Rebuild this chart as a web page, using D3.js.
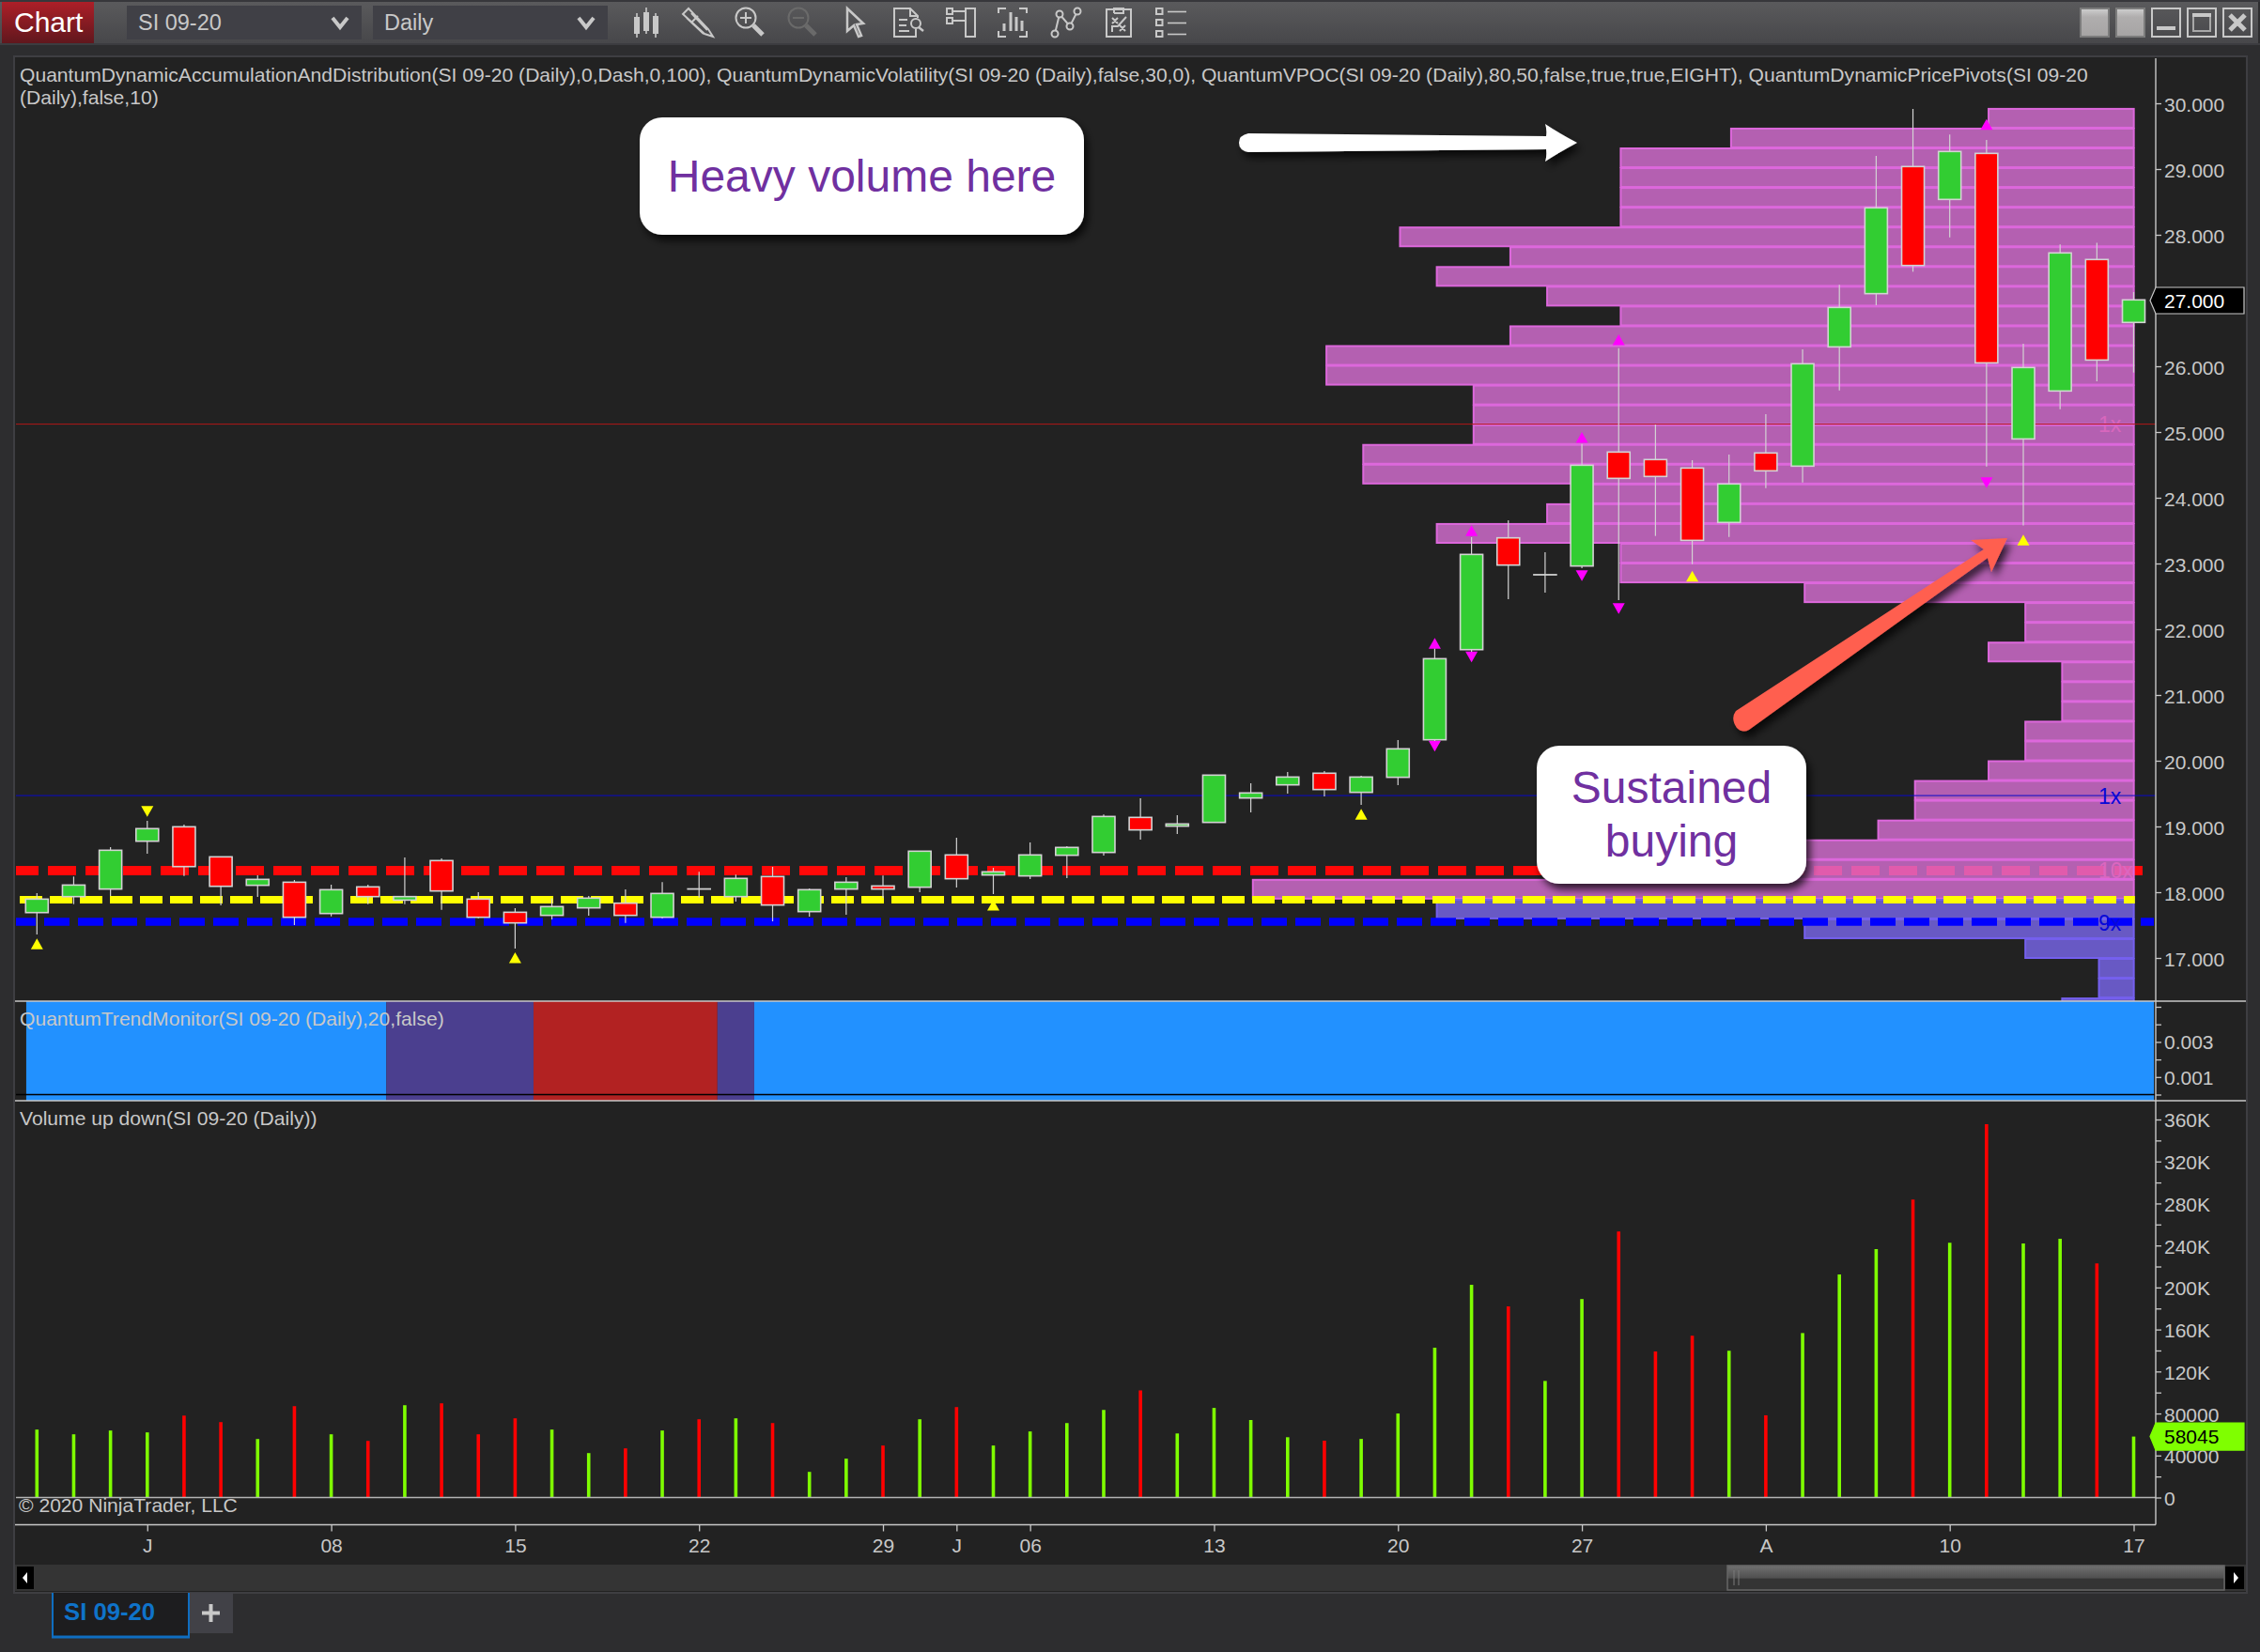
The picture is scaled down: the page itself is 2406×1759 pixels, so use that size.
<!DOCTYPE html>
<html><head><meta charset="utf-8">
<style>html,body{margin:0;padding:0;background:#2d2d2f;overflow:hidden}svg{display:block}text{font-family:"Liberation Sans",Arial,sans-serif}</style>
<script src="https://cdn.jsdelivr.net/npm/d3@7"></script></head><body><svg id="c" width="2406" height="1759"></svg>
<script>
// ---- data ----
const opens=[17.69,17.933,18.048,18.776,18.995,18.538,18.105,18.152,17.676,18.081,17.88,18.481,17.895,17.695,17.648,17.762,17.833,17.619,18.05,17.933,18.238,17.705,18.048,18.095,18.076,18.567,18.262,18.248,18.562,18.605,19.138,19.005,19.062,19.433,19.633,19.81,19.519,19.748,20.319,21.69,23.39,22.828,22.962,24.695,24.581,24.452,23.624,24.681,24.481,26.295,27.105,29.038,28.538,29.238,24.895,25.624,27.624,26.667];
const highs=[17.986,18.238,18.686,19.086,19.029,18.538,18.257,18.186,18.114,18.114,18.529,18.514,18,17.757,17.905,17.943,18.043,18.152,18.31,18.267,18.386,18.057,18.229,18.252,18.624,18.829,18.371,18.757,18.7,19.181,19.429,19.171,19.781,19.657,19.829,19.843,19.771,20.314,21.705,23.4,23.657,23.171,24.819,26.276,25.114,24.571,24.657,25.271,26.257,27.238,29.2,29.914,29.524,29.443,26.343,27.852,27.88,27.129];
const lows=[17.357,17.819,17.943,18.586,18.248,17.8,17.929,17.5,17.633,17.819,17.819,17.733,17.605,17.143,17.586,17.643,17.533,17.6,17.919,17.857,17.557,17.629,17.657,17.914,18,18.071,17.971,18.2,18.214,18.557,18.8,18.886,19.062,19.214,19.5,19.457,19.329,19.629,20.3,21.657,22.457,22.557,22.929,22.443,23.419,22.99,23.405,24.148,24.233,25.633,26.93,27.438,27.962,24.476,23.58,25.348,25.771,25.905];
const closes=[17.895,18.109,18.638,18.967,18.39,18.09,18.195,17.619,18.038,17.933,17.933,18.019,17.619,17.533,17.781,17.91,17.648,17.981,18.048,18.21,17.805,18.038,18.152,18.048,18.624,18.205,18.31,18.567,18.681,19.152,18.948,19.038,19.781,19.51,19.752,19.562,19.752,20.181,21.552,23.138,22.976,22.83,24.495,24.295,24.324,23.352,24.21,24.41,26.038,26.895,28.41,27.533,29.267,26.052,25.981,27.724,26.095,27.01];
const volumes=[64700,60200,63800,62000,78000,71800,55700,87000,60200,53900,87900,89700,60200,75400,64700,42300,46800,63800,74500,75400,70900,24400,37000,49500,74500,86100,49500,62900,70900,83400,102000,61000,85300,73800,57400,54100,55800,80000,142700,202500,182000,111000,189000,253400,139000,154000,139800,78300,156600,212400,236600,283700,242700,355500,241900,246400,223000,58045];
const xTickBars=[3,8,13,18,23,25,27,32,37,42,47,52,57];
const xTickLabels=["J","08","15","22","29","J","06","13","20","27","A","10","17"];
const priceTicks=[17,18,19,20,21,22,23,24,25,26,27,28,29,30];
const volumeTicks=[0,20000,40000,60000,80000,100000,120000,140000,160000,180000,200000,220000,240000,260000,280000,300000,320000,340000,360000];
const volumeLabels={0:"0",40000:"40000",80000:"80000",120000:"120K",160000:"160K",200000:"200K",240000:"240K",280000:"280K",320000:"320K",360000:"360K"};
const trendTicks=[0,0.001,0.002,0.003,0.004,0.005];
const trendLabels={0.001:"0.001",0.003:"0.003"};
// volume profile: bins from the top of the panel (in bar-widths of accumulated activity)
const profileVolume=[4,11,14,14,14,14,20,17,19,16,14,17,22,22,18,18,18,21,21,15,16,19,14,14,9,3,3,4,2,2,2,3,3,4,6,6,7,10,13,24,19,9,3,1,1,2];
const profileLowZoneStart=40, profileTopPrice=29.93, profileBinSize=0.3007;
const trendStart=[-0.29,9.5,13.5,18.5,19.5];
const trendEnd=[9.5,13.5,18.5,19.5,57.55];
const trendColor=["#2291ff","#4b3f8f","#b22222","#4b3f8f","#2291ff"];
const pivotUpYellow=[[0,17.21],[13,17.0],[26,17.80],[36,19.181],[45,22.805],[54,23.352]];
const pivotDownYellow=[[3,19.233]];
const pivotUpMagenta=[[38,21.781],[39,23.495],[42,24.914],[43,26.4],[53,29.676]];
const pivotDownMagenta=[[38,20.224],[39,21.581],[42,22.819],[43,22.319],[53,24.233]];
const levelRedThick=18.33, levelYellow=17.886, levelBlue=17.55, levelThinBlue=19.47, levelThinRed=25.12;
const lastPrice=27.000, lastVolume=58045;
const headerLine1="QuantumDynamicAccumulationAndDistribution(SI 09-20 (Daily),0,Dash,0,100), QuantumDynamicVolatility(SI 09-20 (Daily),false,30,0), QuantumVPOC(SI 09-20 (Daily),80,50,false,true,true,EIGHT), QuantumDynamicPricePivots(SI 09-20";
const headerLine2="(Daily),false,10)";

// ---- scales ----
const x=d3.scaleLinear().domain([0,57]).range([39.3,2271.5]);
const yP=d3.scaleLinear().domain([17,30]).range([1020,110]);
const yV=d3.scaleLinear().domain([0,360000]).range([1594.5,1192]);
const yT=d3.scaleLinear().domain([0,0.005]).range([1165.5,1072]);
const profileRight=57.03;
const svg=d3.select("#c");
const GR="#c8c8c8";

// ---- defs ----
const defs=svg.append("defs");
function grad(id,stops){const g=defs.append("linearGradient").attr("id",id).attr("x1",0).attr("x2",0).attr("y1",0).attr("y2",1);
 stops.forEach(s=>g.append("stop").attr("offset",s[0]).attr("stop-color",s[1]));}
grad("tb",[[0,"#5a5a5c"],[1,"#47474a"]]);
grad("rb",[[0,"#ad1f28"],[1,"#60171d"]]);
grad("wb",[[0,"#d0d0d0"],[0.3,"#b0aeae"],[1,"#a6a4a4"]]);
grad("th",[[0,"#707070"],[0.5,"#505050"],[0.55,"#343434"],[1,"#343434"]]);
const sh=defs.append("filter").attr("id","sh").attr("x","-20%").attr("y","-30%").attr("width","140%").attr("height","160%");
sh.append("feDropShadow").attr("dx",4).attr("dy",6).attr("stdDeviation",4).attr("flood-color","#000").attr("flood-opacity",.75);
defs.append("clipPath").attr("id","pricePanel").append("rect").attr("x",17).attr("y",62).attr("width",2278).attr("height",1004);

// ---- window chrome ----
svg.append("rect").attr("width",2406).attr("height",1759).attr("fill","#2d2d2f");
svg.append("rect").attr("width",2406).attr("height",2).attr("fill","#37373b");
svg.append("rect").attr("y",2).attr("width",2404).attr("height",44).attr("fill","url(#tb)");
svg.append("rect").attr("y",46).attr("width",2406).attr("height",2).attr("fill","#3c3c40");
svg.append("rect").attr("x",2).attr("y",2).attr("width",98).attr("height",44).attr("fill","url(#rb)");
svg.append("text").attr("x",15).attr("y",34).attr("font-size",30).attr("fill","#fff").text("Chart");
[[135,250,"SI 09-20",147,362],[397,250,"Daily",409,624]].forEach(d=>{
 svg.append("rect").attr("x",d[0]).attr("y",6).attr("width",d[1]).attr("height",36).attr("fill","#404046");
 svg.append("text").attr("x",d[3]).attr("y",32).attr("font-size",23.5).attr("fill",GR).text(d[2]);
 svg.append("path").attr("d",`M${d[4]-8} 19L${d[4]} 29L${d[4]+8} 19`).attr("fill","none").attr("stroke",GR).attr("stroke-width",4);
});
// toolbar icons
const ic=svg.append("g").attr("fill","none").attr("stroke",GR).attr("stroke-width",2);
[[678,14,40,18,36],[688,8,36,13,33],[698,14,40,17,36]].forEach(b=>{ic.append("line").attr("x1",b[0]).attr("x2",b[0]).attr("y1",b[1]).attr("y2",b[2]).attr("stroke-width",1.6);ic.append("rect").attr("x",b[0]-3).attr("y",b[3]).attr("width",6).attr("height",b[4]-b[3]).attr("fill",GR).attr("stroke","none");});
ic.append("path").attr("d","M727 15L733 9L754 31L759 39L750 36Z M731 19L749 36M736 14L753 32M743 17L737 23");
ic.append("circle").attr("cx",794).attr("cy",19).attr("r",10.5);ic.append("path").attr("d","M788 19H800M794 13V25");ic.append("path").attr("d","M802 27L812 37").attr("stroke-width",5);
const dim=ic.append("g").attr("stroke","#6a6a6a");dim.append("circle").attr("cx",850).attr("cy",19).attr("r",10.5);dim.append("path").attr("d","M844 19H856");dim.append("path").attr("d","M858 27L868 37").attr("stroke-width",5);
ic.append("path").attr("d","M902 9V33L909 27L914 39L917 38L912 26L919 25Z").attr("stroke-width",2.5);
ic.append("path").attr("d","M975 31V39H952V9H969L977 17V19 M969 9V17H977 M957 21H966M957 27H965M957 33H968");ic.append("circle").attr("cx",975).attr("cy",25).attr("r",5);ic.append("path").attr("d","M978 29L983 33").attr("stroke-width",2.5);
ic.append("rect").attr("x",1028).attr("y",9).attr("width",10).attr("height",30);ic.append("rect").attr("x",1008).attr("y",9).attr("width",6).attr("height",6);ic.append("rect").attr("x",1008).attr("y",19).attr("width",6).attr("height",6);ic.append("path").attr("d","M1014 12H1028M1014 22H1028");
ic.append("path").attr("d","M1063 14V9H1071M1085 9H1093V14M1093 33V39H1085M1071 39H1063V33");
ic.selectAll(null).data([[1069,25],[1076,13],[1082,18],[1088,22]]).join("rect").attr("x",d=>d[0]-1.5).attr("y",d=>d[1]).attr("width",3).attr("height",d=>33-d[1]).attr("fill",GR).attr("stroke","none");
ic.append("path").attr("d","M1123 36L1128 15L1139 28L1147 12");[[1123,36],[1128,15],[1139,28],[1147,12]].forEach(p=>ic.append("circle").attr("cx",p[0]).attr("cy",p[1]).attr("r",3.5).attr("fill","#4d4d4f"));
ic.append("path").attr("d","M1178 10H1204V39H1178Z M1186 14V9H1196V14H1186 M1184 19L1190 25M1190 19L1184 25M1192 33L1198 27M1198 33L1192 27M1184 34V28H1190L1199 18");
[12,24,36].forEach(y=>{ic.append("rect").attr("x",1231).attr("y",y-3).attr("width",6.5).attr("height",6);ic.append("line").attr("x1",1243).attr("x2",1263).attr("y1",y+.5).attr("y2",y+.5).attr("stroke-width",1.6);});
// window buttons
[2214,2252].forEach(X=>svg.append("rect").attr("x",X+1).attr("y",9).attr("width",30).attr("height",30).attr("fill","url(#wb)").attr("stroke","#7c7c7c").attr("stroke-width",2));
[2290,2328,2366].forEach(X=>svg.append("rect").attr("x",X+1).attr("y",9).attr("width",30).attr("height",30).attr("fill","none").attr("stroke",GR).attr("stroke-width",2));
svg.append("rect").attr("x",2296).attr("y",28).attr("width",20).attr("height",4).attr("fill",GR);
svg.append("rect").attr("x",2335).attr("y",16).attr("width",18).attr("height",17).attr("fill","none").attr("stroke","#a8a8a8").attr("stroke-width",2);
svg.append("rect").attr("x",2334).attr("y",14).attr("width",20).attr("height",4).attr("fill",GR);
svg.append("path").attr("d","M2374 16L2390 32M2390 16L2374 32").attr("stroke",GR).attr("stroke-width",5);

// ---- chart panel ----
svg.append("rect").attr("x",15).attr("y",60).attr("width",2377).attr("height",1636).attr("fill","#222222").attr("stroke","#3e3e42").attr("stroke-width",2);

// heavy red level sits below the profile
const panel=svg.append("g").attr("clip-path","url(#pricePanel)");
function dashed(y,x0,x1,w,col,dash,off){panel.append("line").attr("x1",x0).attr("x2",x1).attr("y1",yP(y)).attr("y2",yP(y)).attr("stroke",col).attr("stroke-width",w).attr("stroke-dasharray",dash).attr("stroke-dashoffset",off);}
dashed(levelRedThick,17,2281.5,10,"#ff0808","30 10",6);
panel.append("text").attr("x",2234).attr("y",yP(levelRedThick)+8).attr("font-size",23).attr("fill","#e0406a").text("10x");
panel.append("text").attr("x",2234).attr("y",yP(levelThinRed)+8).attr("font-size",23).attr("fill","#d0405a").text("1x");

// profile
const binTop=i=>profileTopPrice-i*profileBinSize;
panel.selectAll("rect.pf").data(profileVolume).join("rect").attr("class","pf")
 .attr("x",v=>x(profileRight-v)+1).attr("width",v=>x(profileRight)-x(profileRight-v)-2)
 .attr("y",(v,i)=>yP(binTop(i))+1).attr("height",(v,i)=>yP(binTop(i+1))-yP(binTop(i))-1)
 .attr("fill",(v,i)=>i>=profileLowZoneStart?"rgba(123,104,238,.8)":"rgba(218,112,214,.8)")
 .attr("stroke",(v,i)=>i>=profileLowZoneStart?"#7560ee":"#dd68dc").attr("stroke-width",2);

// thin levels
panel.append("line").attr("x1",17).attr("x2",2295).attr("y1",yP(levelThinBlue)).attr("y2",yP(levelThinBlue)).attr("stroke","#0a0ac8").attr("stroke-width",1);
panel.append("line").attr("x1",17).attr("x2",2295).attr("y1",yP(levelThinRed)).attr("y2",yP(levelThinRed)).attr("stroke","#b01818").attr("stroke-width",1);

// pivots
function tri(list,col,up){panel.selectAll(null).data(list).join("path")
 .attr("d",d=>{const X=x(d[0]),Y=yP(d[1]);return up?`M${X} ${Y-6}L${X+6.5} ${Y+5.5}L${X-6.5} ${Y+5.5}Z`:`M${X} ${Y+6}L${X+6.5} ${Y-5.5}L${X-6.5} ${Y-5.5}Z`;}).attr("fill",col);}
tri(pivotUpYellow,"#ffff00",true);tri(pivotDownYellow,"#ffff00",false);tri(pivotUpMagenta,"#ff00ff",true);tri(pivotDownMagenta,"#ff00ff",false);

dashed(levelYellow,17,2272.8,8,"#ffff00","24 8",28);
dashed(levelBlue,17,2293,8.5,"#0000ff","27 9",6);
panel.append("text").attr("x",2234).attr("y",yP(levelThinBlue)+9).attr("font-size",23).attr("fill","#0808d8").text("1x");
panel.append("text").attr("x",2234).attr("y",yP(levelBlue)+9).attr("font-size",23).attr("fill","#0808d8").text("9x");

// candles
const bars=d3.range(opens.length);
panel.selectAll("line.w").data(bars).join("line").attr("class","w").attr("x1",i=>x(i)).attr("x2",i=>x(i)).attr("y1",i=>yP(highs[i])).attr("y2",i=>yP(lows[i])).attr("stroke","#d3d3d3").attr("stroke-width",1.2);
panel.selectAll("rect.b").data(bars).join("rect").attr("class","b").attr("x",i=>x(i)-12).attr("width",24)
 .attr("y",i=>yP(Math.max(opens[i],closes[i]))).attr("height",i=>Math.abs(yP(opens[i])-yP(closes[i])))
 .attr("fill",i=>closes[i]>opens[i]?"#32cd32":"#ff0000").attr("stroke","#d3d3d3").attr("stroke-width",1.6);

// trend monitor
svg.selectAll("rect.t").data(trendStart).join("rect").attr("class","t").attr("x",d=>x(d)).attr("width",(d,i)=>x(trendEnd[i])-x(d)).attr("y",1066).attr("height",106).attr("fill",(d,i)=>trendColor[i]);
svg.append("line").attr("x1",17).attr("x2",2294).attr("y1",yT(0)).attr("y2",yT(0)).attr("stroke","#000").attr("stroke-width",1.5);

// volume
svg.selectAll("line.v").data(bars).join("line").attr("class","v").attr("x1",i=>x(i)).attr("x2",i=>x(i)).attr("y1",yV(0)).attr("y2",i=>yV(volumes[i])).attr("stroke",i=>closes[i]>opens[i]?"#7fff00":"#ff0000").attr("stroke-width",3.6);
svg.append("line").attr("x1",17).attr("x2",2295).attr("y1",yV(0)).attr("y2",yV(0)).attr("stroke","#b4b4b4").attr("stroke-width",1.5);

// separators
[1066,1172].forEach(y=>svg.append("line").attr("x1",16).attr("x2",2391).attr("y1",y).attr("y2",y).attr("stroke",GR).attr("stroke-width",1.6));
svg.append("line").attr("x1",16).attr("x2",2295).attr("y1",1623.5).attr("y2",1623.5).attr("stroke",GR).attr("stroke-width",1.6);
svg.append("line").attr("x1",2295).attr("x2",2295).attr("y1",62).attr("y2",1623.5).attr("stroke",GR).attr("stroke-width",1.4);

// axes
function styleAxis(g,dy){g.select(".domain").remove();g.selectAll(".tick line").attr("stroke",GR).attr("stroke-width",1.3);g.selectAll(".tick text").attr("fill",GR).attr("font-size",21).attr("font-family",'"Liberation Sans",Arial,sans-serif').attr("dy",dy);}
const ap=svg.append("g").attr("transform","translate(2295,0)").call(d3.axisRight(yP).tickValues(priceTicks).tickFormat(d3.format(".3f")).tickSize(6).tickPadding(3));styleAxis(ap,"0.40em");
const at=svg.append("g").attr("transform","translate(2295,0)").call(d3.axisRight(yT).tickValues(trendTicks).tickFormat(d=>trendLabels[d]||"").tickSize(6).tickPadding(3));styleAxis(at,"0.35em");
const av=svg.append("g").attr("transform","translate(2295,0)").call(d3.axisRight(yV).tickValues(volumeTicks).tickFormat(d=>volumeLabels[d]||"").tickSize(6).tickPadding(3));styleAxis(av,"0.38em");
const ax=svg.append("g").attr("transform","translate(0,1623.5)").call(d3.axisBottom(x).tickValues(xTickBars).tickFormat((d,i)=>xTickLabels[i]).tickSize(7).tickPadding(8));styleAxis(ax,"0.71em");

// last value markers
function flag(y,fill,stroke,txtCol,txt,h){svg.append("path").attr("d",`M2289 ${y}L2295 ${y-h}H2389V${y+h}H2295Z`).attr("fill",fill).attr("stroke",stroke).attr("stroke-width",1.2);
 svg.append("text").attr("x",2304).attr("y",y+7.5).attr("font-size",21).attr("fill",txtCol).text(txt);}
flag(yP(lastPrice),"#000",GR,"#fff",lastPrice.toFixed(3),14);
flag(yV(lastVolume),"#7fff00","#7fff00","#000",String(lastVolume),14.5);

// text labels
const lab=(t,X,Y)=>svg.append("text").attr("x",X).attr("y",Y).attr("font-size",21.1).attr("fill",GR).text(t);
lab(headerLine1,21,87);lab(headerLine2,21,111);
lab("QuantumTrendMonitor(SI 09-20 (Daily),20,false)",21,1091.5);
lab("Volume up down(SI 09-20 (Daily))",21,1198);
lab("© 2020 NinjaTrader, LLC",20,1609.5);

// callouts
const PUR="#7030a0";
svg.append("rect").attr("x",681).attr("y",125).attr("width",473).attr("height",125).attr("rx",24).attr("fill","#fff").attr("filter","url(#sh)");
svg.append("text").attr("x",917.5).attr("y",204).attr("text-anchor","middle").attr("font-size",48).attr("fill",PUR).text("Heavy volume here");
svg.append("rect").attr("x",1636).attr("y",794).attr("width",287).attr("height",147).attr("rx",24).attr("fill","#fff").attr("filter","url(#sh)");
svg.append("text").attr("x",1779.5).attr("y",855).attr("text-anchor","middle").attr("font-size",48).attr("fill",PUR).text("Sustained");
svg.append("text").attr("x",1779.5).attr("y",912).attr("text-anchor","middle").attr("font-size",48).attr("fill",PUR).text("buying");
// arrows
svg.append("path").attr("d","M1329 142L1646 145Q1647 138 1645 132Q1660 142 1679 152Q1660 162 1645 172Q1647 166 1646 159L1329 162Q1319 160 1319 152Q1319 144 1329 142Z").attr("fill","#fff").attr("filter","url(#sh)");
svg.append("path").attr("d","M1848 757L2112 585L2098 575L2137 573L2120 609L2116 594L1862 777Q1855 781 1849 775Q1842 765 1848 757Z").attr("fill","#ff5f50").attr("filter","url(#sh)");

// scrollbar and tab
svg.append("rect").attr("x",16).attr("y",1666).attr("width",2375).attr("height",28).attr("fill","#343434");
svg.append("rect").attr("x",18).attr("y",1668).attr("width",18).attr("height",24).attr("fill","#000");
svg.append("path").attr("d","M24 1680L29 1674V1686Z").attr("fill","#fff");
svg.append("rect").attr("x",1839).attr("y",1667).attr("width",529).attr("height",26).attr("fill","url(#th)").attr("stroke","#666").attr("stroke-width",1.5);
svg.append("path").attr("d","M1846 1672V1688M1851 1672V1688").attr("stroke","#7a7a7a").attr("stroke-width",1);
svg.append("rect").attr("x",2369).attr("y",1668).attr("width",20).attr("height",24).attr("fill","#000");
svg.append("path").attr("d","M2383 1680L2378 1674V1686Z").attr("fill","#fff");
svg.append("rect").attr("x",201).attr("y",1696).attr("width",47).attr("height",43).attr("fill","#414147");
svg.append("path").attr("d","M224.5 1708V1727M215 1717.5H234").attr("stroke",GR).attr("stroke-width",4);
svg.append("path").attr("d","M56 1696V1743H201V1696").attr("fill","#1d1d1f").attr("stroke","#0f6ec1").attr("stroke-width",2);
svg.append("line").attr("x1",55).attr("x2",202).attr("y1",1743).attr("y2",1743).attr("stroke","#0f6ec1").attr("stroke-width",3);
svg.append("text").attr("x",68).attr("y",1725).attr("font-size",25.7).attr("font-weight","bold").attr("fill","#0f73c9").text("SI 09-20");
</script></body></html>
